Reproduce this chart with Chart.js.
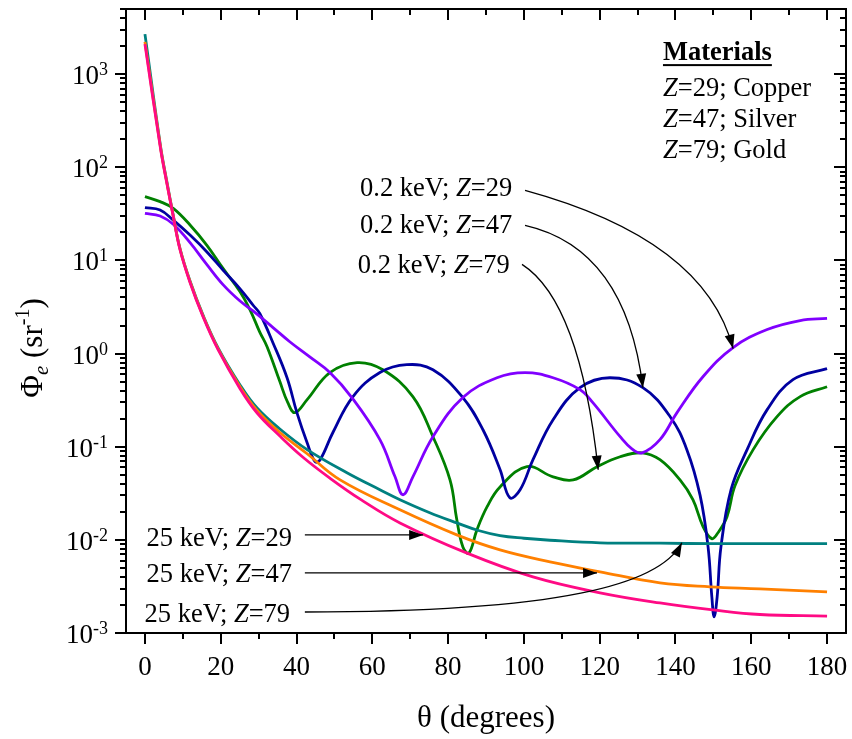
<!DOCTYPE html>
<html>
<head>
<meta charset="utf-8">
<script src="https://cdn.jsdelivr.net/npm/chart.js@4.4.1/dist/chart.umd.min.js"></script>
<style>
  html, body { margin: 0; padding: 0; background: #fff; }
  #wrap { width: 852px; height: 739px; }
</style>
</head>
<body>
<div id="wrap"><canvas id="chart" width="852" height="739"></canvas></div>
<script>
// theta in degrees, Phi_e in sr^-1
const cu25Theta = [0, 4.14, 5.73, 7.47, 9.24, 11.9, 15.3, 19.3, 25.1, 29.6, 35.6, 42.8, 53.3, 62.0, 67.3, 75.0, 82.3, 88.0, 93.7, 100.0, 106.9, 120.1, 135.9, 150, 165, 180];
const cu25Phi   = [2690, 165, 72, 30.5, 13.5, 6.0, 2.6, 1.15, 0.46, 0.26, 0.155, 0.093, 0.0525, 0.0345, 0.027, 0.0197, 0.0152, 0.0126, 0.0111, 0.0104, 0.0099, 0.0093, 0.0092, 0.0091, 0.0091, 0.0091];

const ag25Theta = [0, 4.14, 5.73, 7.47, 9.24, 11.9, 15.3, 19.3, 25.1, 29.6, 35.6, 42.8, 51.5, 67.3, 82.3, 93.7, 106.9, 120.1, 135.9, 149.1, 162.3, 180];
const ag25Phi   = [2220, 160, 70, 30, 13.3, 5.9, 2.55, 1.12, 0.44, 0.245, 0.142, 0.084, 0.044, 0.021, 0.0113, 0.0078, 0.0058, 0.00453, 0.00345, 0.00313, 0.00298, 0.00276];

const au25Theta = [0, 4.14, 5.73, 7.47, 9.24, 11.9, 15.3, 19.3, 25.1, 29.6, 35.6, 41.7, 48.8, 57.0, 67.3, 85.0, 102.4, 120.1, 135.9, 149.9, 162.3, 180];
const au25Phi   = [2100, 156, 69, 29.7, 13.1, 5.8, 2.5, 1.1, 0.42, 0.23, 0.13, 0.077, 0.046, 0.027, 0.0152, 0.0072, 0.004, 0.0027, 0.0021, 0.00177, 0.00158, 0.00152];

const cu02Theta = [0, 4.0, 7.47, 11.9, 16.3, 20.6, 25.1, 28.6, 33.8, 38.3, 43.5, 48.8, 54.6, 62.0, 66.0, 68.1, 70.7, 76.0, 83.9, 92.9, 100.3, 107.7, 114.8, 118.2, 125.4, 128.5, 131.2, 135.9, 140.4, 147.3, 155.2, 164.2, 172.9, 180];
const cu02Phi   = [32, 30, 24.4, 15.5, 9.06, 5.5, 3.66, 2.85, 1.9, 1.33, 0.92, 0.625, 0.337, 0.119, 0.0475, 0.0305, 0.0475, 0.128, 0.337, 0.55, 0.625, 0.55, 0.41, 0.297, 0.128, 0.095, 0.086, 0.119, 0.232, 0.567, 1.16, 1.81, 2.26, 2.38];

const ag02Theta = [0, 4.0, 7.47, 11.9, 16.3, 20.6, 25.1, 28.6, 30.3, 33.8, 37.5, 40.1, 42.8, 44.9, 46.2, 49.6, 54.9, 62.0, 69.1, 76.0, 83.9, 89.2, 93.7, 96.3, 99.0, 102.4, 107.7, 114.8, 122.7, 131.4, 138.6, 143.0, 146.5, 148.6, 149.6, 150.2, 151.0, 152.0, 154.7, 158.9, 164.2, 171.0, 180];
const ag02Phi   = [36.8, 34.7, 27.1, 18.7, 12.4, 7.87, 4.95, 3.28, 2.69, 1.3, 0.55, 0.232, 0.11, 0.069, 0.072, 0.142, 0.345, 0.625, 0.76, 0.67, 0.337, 0.152, 0.057, 0.0283, 0.0345, 0.0725, 0.195, 0.43, 0.55, 0.43, 0.21, 0.093, 0.03, 0.0084, 0.00244, 0.00149, 0.00244, 0.0084, 0.035, 0.093, 0.25, 0.525, 0.69];

const au02Theta = [0, 4.0, 7.47, 11.9, 16.3, 20.6, 25.1, 27.7, 30.3, 32.2, 35.6, 37.7, 39.6, 42.8, 48.8, 56.0, 62.8, 70.7, 76.0, 80.5, 82.3, 83.9, 85.5, 87.6, 90.3, 93.7, 100.8, 107.7, 113.0, 119.3, 125.4, 131.2, 135.9, 141.2, 144.6, 147.3, 149.6, 151.2, 153.6, 155.7, 160.5, 166.8, 172.9, 180];
const au02Phi   = [48.4, 42.8, 36.2, 24, 14.6, 8.2, 4.6, 2.97, 1.7, 1.19, 0.5, 0.297, 0.232, 0.32, 0.625, 0.8, 0.67, 0.345, 0.128, 0.044, 0.0164, 0.0084, 0.0072, 0.0128, 0.0227, 0.037, 0.061, 0.0475, 0.044, 0.061, 0.078, 0.086, 0.0725, 0.044, 0.027, 0.0138, 0.0103, 0.0119, 0.0177, 0.038, 0.093, 0.21, 0.345, 0.44];

const xMajorTicks = [0, 20, 40, 60, 80, 100, 120, 140, 160, 180];
const xMinorTicks = [10, 30, 50, 70, 90, 110, 130, 150, 170];
const yDecades = [-3, -2, -1, 0, 1, 2, 3];

// annotations, anchored in data units (theta, Phi)
const curveLabels = [
  { pre: '0.2 keV; ', z: '=29', theta: 96.9, phi: 61 },
  { pre: '0.2 keV; ', z: '=47', theta: 96.9, phi: 24.4 },
  { pre: '0.2 keV; ', z: '=79', theta: 96.3, phi: 9.06 },
  { pre: '25 keV; ', z: '=29', theta: 38.8, phi: 0.01076 },
  { pre: '25 keV; ', z: '=47', theta: 38.8, phi: 0.00442 },
  { pre: '25 keV; ', z: '=79', theta: 38.3, phi: 0.00164 }
];
const arrowPaths = [
  [[100.3, 56.6], [147.8, 16.8], [155.2, 1.13]],
  [[100.3, 23.8], [126.9, 13.5], [131.4, 0.43]],
  [[99.5, 9.06], [114.8, 3.62], [119.6, 0.0566]],
  [[42.2, 0.0113], [73.4, 0.0113]],
  [[42.2, 0.00442], [119.3, 0.00442]],
  [[42.2, 0.00168], [109.5, 0.00168], [135.9, 0.00328], [141.7, 0.0093]]
];
const materials = [
  { z: '=29; Copper', phi: 724 },
  { z: '=47; Silver', phi: 336 },
  { z: '=79; Gold', phi: 156 }
];
const materialsTheta = 136.7;
const materialsTitlePhi = 1766;

const SERIF = '"Liberation Serif", "Times New Roman", serif';
function font(size, style) {
  return (style || '') + ' ' + size + 'px ' + SERIF;
}

function drawRich(ctx, parts, x, y, align) {
  let w = 0;
  parts.forEach(p => { ctx.font = font(p.size, p.style); w += ctx.measureText(p.t).width; });
  let cx = x;
  if (align === 'right') cx = x - w;
  if (align === 'center') cx = x - w / 2;
  parts.forEach(p => {
    ctx.font = font(p.size, p.style);
    ctx.fillText(p.t, cx, y + (p.dy || 0));
    cx += ctx.measureText(p.t).width;
  });
  return w;
}

function arrowHead(ctx, tip, from) {
  const a = Math.atan2(tip.y - from.y, tip.x - from.x);
  const L = 14, W = 5;
  const c = Math.cos(a), s = Math.sin(a);
  ctx.beginPath();
  ctx.moveTo(tip.x, tip.y);
  ctx.lineTo(tip.x - L * c + W * s, tip.y - L * s - W * c);
  ctx.lineTo(tip.x - L * c - W * s, tip.y - L * s + W * c);
  ctx.closePath();
  ctx.fill();
}

const axesPlugin = {
  id: 'axesPlugin',
  afterDraw(chart) {
    const ctx = chart.ctx;
    const xs = chart.scales.x, ys = chart.scales.y;
    const a = chart.chartArea;
    ctx.save();
    ctx.strokeStyle = '#000';
    ctx.fillStyle = '#000';
    ctx.lineWidth = 2;
    ctx.strokeRect(a.left, a.top, a.right - a.left, a.bottom - a.top);

    // x ticks: out at bottom, in at top
    ctx.beginPath();
    xMajorTicks.forEach(v => {
      const px = Math.round(xs.getPixelForValue(v));
      ctx.moveTo(px, a.bottom); ctx.lineTo(px, a.bottom + 11);
      ctx.moveTo(px, a.top); ctx.lineTo(px, a.top + 11);
    });
    xMinorTicks.forEach(v => {
      const px = Math.round(xs.getPixelForValue(v));
      ctx.moveTo(px, a.bottom); ctx.lineTo(px, a.bottom + 6);
      ctx.moveTo(px, a.top); ctx.lineTo(px, a.top + 6);
    });
    // y ticks: out at left, in at right
    yDecades.forEach(e => {
      const py = Math.round(ys.getPixelForValue(Math.pow(10, e)));
      ctx.moveTo(a.left - 11, py); ctx.lineTo(a.left, py);
      ctx.moveTo(a.right - 12, py); ctx.lineTo(a.right, py);
      for (let k = 2; k <= 9; k++) {
        const v = k * Math.pow(10, e);
        if (v > ys.max) break;
        const pm = Math.round(ys.getPixelForValue(v));
        ctx.moveTo(a.left - 6, pm); ctx.lineTo(a.left, pm);
        ctx.moveTo(a.right - 6, pm); ctx.lineTo(a.right, pm);
      }
    });
    ctx.stroke();

    // tick labels
    ctx.textBaseline = 'alphabetic';
    ctx.textAlign = 'center';
    ctx.font = font(27);
    xMajorTicks.forEach(v => {
      ctx.fillText(String(v), xs.getPixelForValue(v), a.bottom + 42);
    });
    ctx.textAlign = 'left';
    yDecades.forEach(e => {
      const py = ys.getPixelForValue(Math.pow(10, e));
      drawRich(ctx, [
        { t: '10', size: 27 },
        { t: String(e), size: 18, dy: -9 }
      ], a.left - 18, py + 10, 'right');
    });

    // axis titles
    drawRich(ctx, [{ t: 'θ (degrees)', size: 31 }], (a.left + a.right) / 2, 727, 'center');
    ctx.save();
    ctx.translate(42, 348);
    ctx.rotate(-Math.PI / 2);
    drawRich(ctx, [
      { t: 'Φ', size: 31 },
      { t: 'e', size: 21, style: 'italic', dy: 6 },
      { t: ' (sr', size: 31 },
      { t: '-1', size: 20, dy: -13 },
      { t: ')', size: 31 }
    ], 0, 0, 'center');
    ctx.restore();

    // materials box
    const mx = xs.getPixelForValue(materialsTheta);
    const my = ys.getPixelForValue(materialsTitlePhi) + 9;
    const mw = drawRich(ctx, [{ t: 'Materials', size: 26.5, style: 'bold' }], mx, my, 'left');
    ctx.fillRect(mx, my + 4, mw, 2);
    materials.forEach(m => {
      drawRich(ctx, [
        { t: 'Z', size: 26.5, style: 'italic' },
        { t: m.z, size: 26.5 }
      ], mx, ys.getPixelForValue(m.phi) + 9, 'left');
    });

    // curve labels
    curveLabels.forEach(l => {
      drawRich(ctx, [
        { t: l.pre, size: 26.5 },
        { t: 'Z', size: 26.5, style: 'italic' },
        { t: l.z, size: 26.5 }
      ], xs.getPixelForValue(l.theta), ys.getPixelForValue(l.phi) + 9, 'right');
    });

    // arrows
    ctx.lineWidth = 1.3;
    arrowPaths.forEach(path => {
      const p = path.map(q => ({ x: xs.getPixelForValue(q[0]), y: ys.getPixelForValue(q[1]) }));
      ctx.beginPath();
      ctx.moveTo(p[0].x, p[0].y);
      if (p.length === 2) ctx.lineTo(p[1].x, p[1].y);
      if (p.length === 3) ctx.quadraticCurveTo(p[1].x, p[1].y, p[2].x, p[2].y);
      if (p.length === 4) ctx.bezierCurveTo(p[1].x, p[1].y, p[2].x, p[2].y, p[3].x, p[3].y);
      ctx.stroke();
      arrowHead(ctx, p[p.length - 1], p[p.length - 2]);
    });
    ctx.restore();
  }
};

function toPoints(theta, phi) {
  return theta.map((t, i) => ({ x: t, y: phi[i] }));
}

function series(label, theta, phi, color) {
  return {
    label: label,
    data: toPoints(theta, phi),
    borderColor: color,
    backgroundColor: color,
    borderWidth: 2.8,
    pointRadius: 0,
    fill: false,
    tension: 0.4
  };
}

new Chart(document.getElementById('chart'), {
  type: 'line',
  data: {
    datasets: [
      series('25 keV; Z=79', au25Theta, au25Phi, '#ff0a84'),
      series('25 keV; Z=47', ag25Theta, ag25Phi, '#ff8000'),
      series('25 keV; Z=29', cu25Theta, cu25Phi, '#008080'),
      series('0.2 keV; Z=29', cu02Theta, cu02Phi, '#8000ff'),
      series('0.2 keV; Z=47', ag02Theta, ag02Phi, '#0000a0'),
      series('0.2 keV; Z=79', au02Theta, au02Phi, '#008000')
    ]
  },
  options: {
    responsive: false,
    animation: false,
    layout: { padding: { left: 126, top: 9, right: 6, bottom: 106 } },
    scales: {
      x: { type: 'linear', min: -5, max: 185, display: false },
      y: { type: 'logarithmic', min: 0.001, max: 5000, display: false }
    },
    plugins: {
      legend: { display: false },
      tooltip: { enabled: false }
    }
  },
  plugins: [axesPlugin]
});
</script>
</body>
</html>
